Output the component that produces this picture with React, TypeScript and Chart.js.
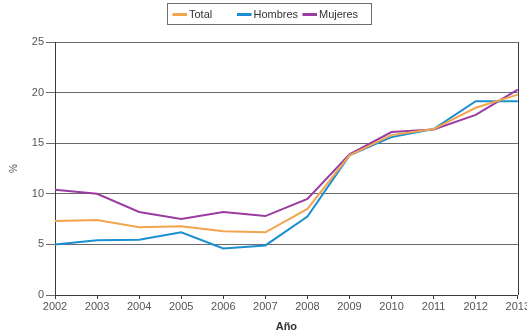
import React, { useEffect, useRef } from "react";
import { Chart, registerables } from "chart.js";

Chart.register(...registerables);

const years = ["2002", "2003", "2004", "2005", "2006", "2007", "2008", "2009", "2010", "2011", "2012", "2013"];
const total = [7.3, 7.4, 6.7, 6.8, 6.3, 6.2, 8.5, 13.8, 15.8, 16.4, 18.5, 19.8];
const hombres = [5.0, 5.4, 5.45, 6.2, 4.6, 4.9, 7.75, 13.8, 15.6, 16.4, 19.15, 19.15];
const mujeres = [10.4, 10.0, 8.2, 7.5, 8.2, 7.8, 9.5, 13.9, 16.1, 16.35, 17.8, 20.3];
const seriesNames = ["Total", "Hombres", "Mujeres"];
const seriesColors = ["#F2A54C", "#1A8FD2", "#9A3CA2"];
const yTicks = [0, 5, 10, 15, 20, 25];

const FONT = "'Liberation Sans', Arial, sans-serif";

const boxedLegend = {
  id: "boxedLegend",
  afterDraw(chart: any) {
    const ctx = chart.ctx;
    ctx.save();
    ctx.strokeStyle = "#6e6e6e";
    ctx.lineWidth = 1;
    ctx.strokeRect(167.5, 3.5, 204, 21);
    const cols = [172.5, 237, 302.5];
    ctx.font = "11px " + FONT;
    ctx.textBaseline = "middle";
    ctx.textAlign = "left";
    chart.data.datasets.forEach((ds: any, i: number) => {
      const x = cols[i];
      ctx.strokeStyle = ds.borderColor;
      ctx.lineWidth = 3;
      ctx.beginPath();
      ctx.moveTo(x, 14.5);
      ctx.lineTo(x + 14.5, 14.5);
      ctx.stroke();
      ctx.fillStyle = "#333";
      ctx.fillText(ds.label, x + 16.5, 14.5);
    });
    ctx.restore();
  },
};

const rightBorder = {
  id: "rightBorder",
  afterDatasetsDraw(chart: any) {
    const { ctx, chartArea } = chart;
    ctx.save();
    ctx.strokeStyle = "#3a3a3a";
    ctx.lineWidth = 1;
    ctx.beginPath();
    const x = Math.round(chartArea.right) + 0.5;
    ctx.moveTo(x, chartArea.top);
    ctx.lineTo(x, chartArea.bottom);
    ctx.stroke();
    ctx.restore();
  },
};

export default function App() {
  const ref = useRef<HTMLCanvasElement | null>(null);
  useEffect(() => {
    if (!ref.current) return;
    const data = [total, hombres, mujeres];
    const chart = new Chart(ref.current, {
      type: "line",
      data: {
        labels: years,
        datasets: seriesNames.map((name, i) => ({
          label: name,
          data: data[i],
          borderColor: seriesColors[i],
          backgroundColor: seriesColors[i],
          borderWidth: 2,
          pointRadius: 0,
          tension: 0,
          fill: false,
        })),
      },
      options: {
        animation: false,
        responsive: false,
        devicePixelRatio: 1,
        layout: { padding: { top: 42, right: 13, left: 0, bottom: 0 } },
        plugins: {
          legend: { display: false },
          tooltip: { enabled: false },
        },
        scales: {
          x: {
            offset: false,
            grid: {
              display: true,
              drawOnChartArea: false,
              drawTicks: true,
              tickLength: 4,
              color: "#3a3a3a",
            },
            border: { display: true, color: "#3a3a3a" },
            ticks: {
              color: "#555",
              font: { family: FONT, size: 11 },
              padding: 1,
              maxRotation: 0,
              autoSkip: false,
            },
            title: {
              display: true,
              text: "Año",
              color: "#333",
              font: { family: FONT, size: 11, weight: "bold" },
              padding: { top: 0, bottom: 0 },
            },
            afterFit: (scale: any) => {
              scale.height = 39;
            },
          },
          y: {
            min: 0,
            max: 25,
            afterBuildTicks: (scale: any) => {
              scale.ticks = yTicks.map((v) => ({ value: v }));
            },
            grid: {
              color: "#6a6a6a",
              drawTicks: true,
              tickLength: 9,
            },
            border: { display: true, color: "#3a3a3a" },
            ticks: {
              color: "#555",
              font: { family: FONT, size: 11 },
              padding: 2,
            },
            title: {
              display: true,
              text: "%",
              color: "#555",
              font: { family: FONT, size: 10 },
              padding: { top: 8, bottom: 0 },
            },
            afterFit: (scale: any) => {
              scale.width = 55;
            },
          },
        },
      },
      plugins: [rightBorder, boxedLegend],
    });
    return () => chart.destroy();
  }, []);
  return (
    <div style={{ position: "fixed", left: 0, top: 0, width: 527, height: 334, overflow: "hidden", background: "#fff" }}>
      <canvas ref={ref} width={531} height={334} style={{ width: 531, height: 334, display: "block" }} />
    </div>
  );
}
